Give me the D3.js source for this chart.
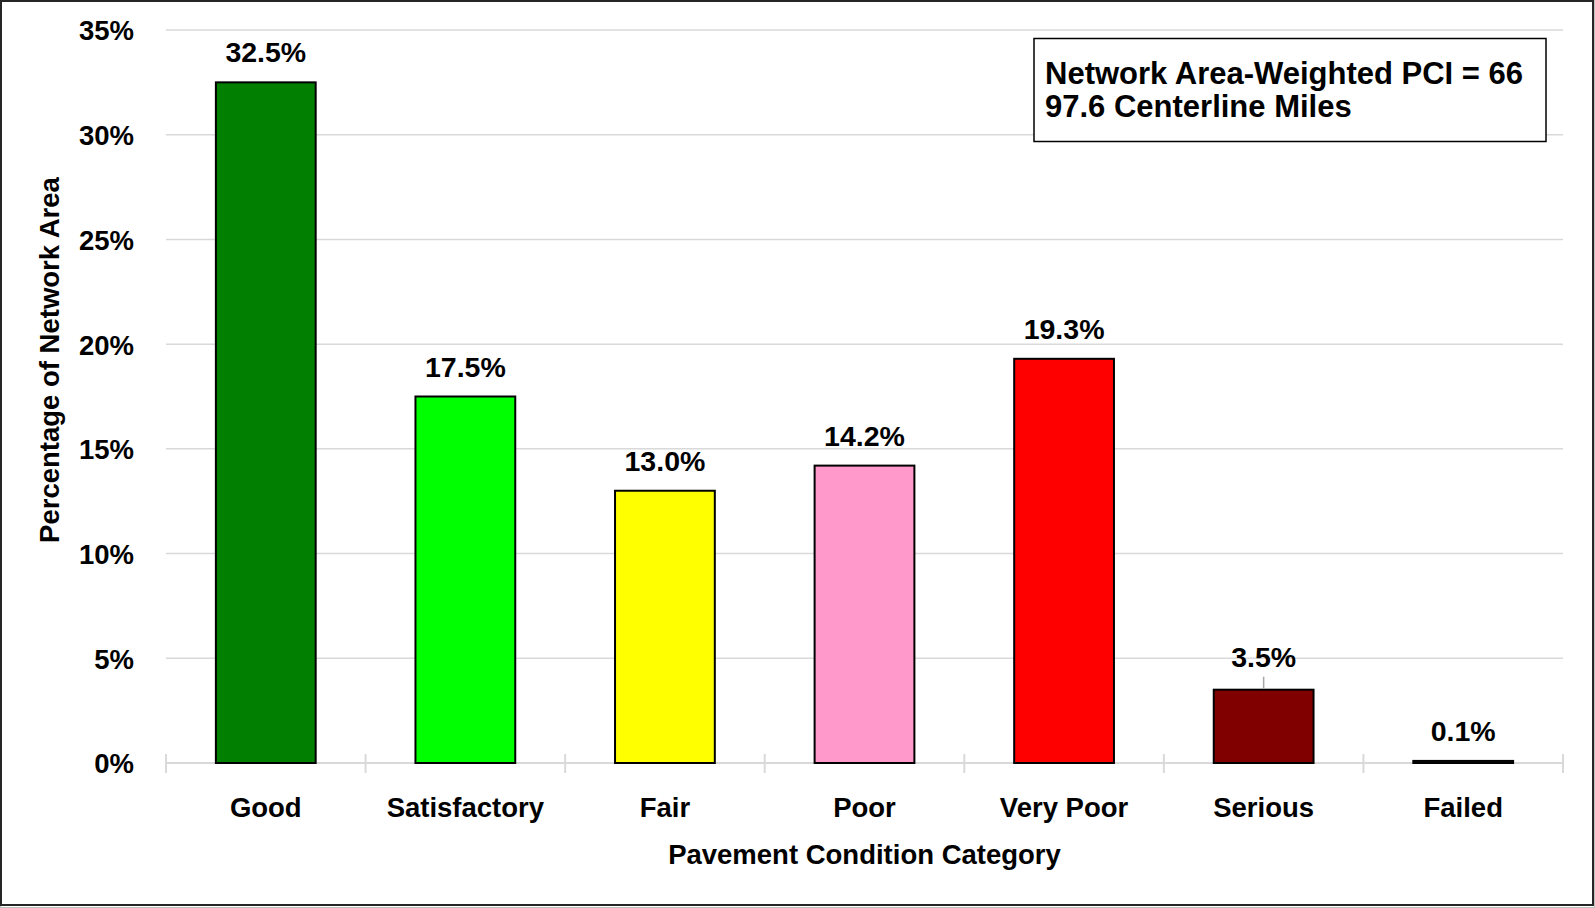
<!DOCTYPE html>
<html>
<head>
<meta charset="utf-8">
<script src="https://cdn.jsdelivr.net/npm/d3@7"></script>
<style>
  html, body { margin: 0; padding: 0; background: #ffffff; }
  svg { display: block; }
  text { font-family: "Liberation Sans", Arial, sans-serif; font-weight: bold; fill: #000; }
</style>
</head>
<body>
<svg id="chart" width="1595" height="908"></svg>
<script>
// ---- Data ----
const categories = ["Good", "Satisfactory", "Fair", "Poor", "Very Poor", "Serious", "Failed"];
const values = [32.5, 17.5, 13.0, 14.2, 19.3, 3.5, 0.1];
const barColors = ["#007f00", "#00ff00", "#ffff00", "#ff99cc", "#ff0000", "#800000", "#404040"];
const yTicks = [0, 5, 10, 15, 20, 25, 30, 35];
const yTitle = "Percentage of Network Area";
const xTitle = "Pavement Condition Category";
const infoLines = ["Network Area-Weighted PCI = 66", "97.6 Centerline Miles"];

// ---- Layout ----
const W = 1595, H = 908;
const plot = { left: 166, right: 1563, top: 30, bottom: 763 };

const svg = d3.select("#chart");

// outer frame
svg.append("rect")
  .attr("x", 0.5).attr("y", 0.5).attr("width", W - 1).attr("height", H - 1)
  .attr("fill", "none").attr("stroke", "#bfbfbf").attr("stroke-width", 1);
svg.append("rect")
  .attr("x", 1).attr("y", 1).attr("width", 1592).attr("height", 904)
  .attr("fill", "none").attr("stroke", "#262626").attr("stroke-width", 2);

const x = d3.scaleBand()
  .domain(categories)
  .range([plot.left, plot.right])
  .paddingInner(0.5)
  .paddingOuter(0.25);

const y = d3.scaleLinear().domain([0, 35]).range([plot.bottom, plot.top]);

// gridlines
svg.append("g").selectAll("line")
  .data(yTicks.filter(d => d > 0))
  .join("line")
  .attr("x1", plot.left).attr("x2", plot.right)
  .attr("y1", d => y(d)).attr("y2", d => y(d))
  .attr("stroke", "#d9d9d9").attr("stroke-width", 1.5);

// y axis tick labels
const yAxis = d3.axisLeft(y).tickValues(yTicks).tickFormat(d => d + "%").tickSize(0).tickPadding(0);
const yg = svg.append("g").attr("transform", `translate(${plot.left - 32},0)`).call(yAxis);
yg.select(".domain").remove();
yg.selectAll("text")
  .style("font-family", '"Liberation Sans", Arial, sans-serif')
  .style("font-weight", "bold")
  .style("font-size", "27.5px")
  .attr("fill", "#000")
  .attr("dy", "0.36em");

// x axis line and cross ticks at category boundaries
const boundaries = d3.range(categories.length + 1).map(i => plot.left + i * (plot.right - plot.left) / categories.length);
svg.append("line")
  .attr("x1", plot.left).attr("x2", plot.right)
  .attr("y1", y(0)).attr("y2", y(0))
  .attr("stroke", "#d9d9d9").attr("stroke-width", 2);
svg.append("g").selectAll("line")
  .data(boundaries)
  .join("line")
  .attr("x1", d => d).attr("x2", d => d)
  .attr("y1", y(0) - 9).attr("y2", y(0) + 10)
  .attr("stroke", "#d9d9d9").attr("stroke-width", 2);

// bars
const data = categories.map((c, i) => ({ cat: c, value: values[i], color: barColors[i] }));
svg.append("g").selectAll("rect")
  .data(data)
  .join("rect")
  .attr("x", d => x(d.cat))
  .attr("y", d => y(d.value))
  .attr("width", x.bandwidth())
  .attr("height", d => y(0) - y(d.value))
  .attr("fill", d => d.color)
  .attr("stroke", "#000")
  .attr("stroke-width", 2);

// data labels (Serious label is lifted with a leader line)
const lifted = new Set(["Serious"]);
svg.append("g").selectAll("line")
  .data(data.filter(d => lifted.has(d.cat)))
  .join("line")
  .attr("x1", d => x(d.cat) + x.bandwidth() / 2)
  .attr("x2", d => x(d.cat) + x.bandwidth() / 2)
  .attr("y1", d => y(d.value) - 1)
  .attr("y2", d => y(d.value) - 13)
  .attr("stroke", "#a6a6a6").attr("stroke-width", 1.5);

svg.append("g").selectAll("text")
  .data(data)
  .join("text")
  .attr("x", d => x(d.cat) + x.bandwidth() / 2)
  .attr("y", d => y(d.value) - (lifted.has(d.cat) ? 23 : 20))
  .attr("text-anchor", "middle")
  .style("font-size", "28.5px")
  .text(d => d.value.toFixed(1) + "%");

// category labels
svg.append("g").selectAll("text")
  .data(categories)
  .join("text")
  .attr("x", d => x(d) + x.bandwidth() / 2)
  .attr("y", 817)
  .attr("text-anchor", "middle")
  .style("font-size", "27.5px")
  .text(d => d);

// axis titles
svg.append("text")
  .attr("x", (plot.left + plot.right) / 2)
  .attr("y", 864)
  .attr("text-anchor", "middle")
  .style("font-size", "27.5px")
  .text(xTitle);

svg.append("text")
  .attr("transform", "translate(59,360) rotate(-90)")
  .attr("text-anchor", "middle")
  .style("font-size", "27.5px")
  .text(yTitle);

// info box
svg.append("rect")
  .attr("x", 1034).attr("y", 38.5).attr("width", 512).attr("height", 103)
  .attr("fill", "#fff").attr("stroke", "#000").attr("stroke-width", 1.5);
svg.append("g").selectAll("text")
  .data(infoLines)
  .join("text")
  .attr("x", 1045)
  .attr("y", (d, i) => 84 + i * 33)
  .style("font-size", "31px")
  .text(d => d);
</script>
</body>
</html>
